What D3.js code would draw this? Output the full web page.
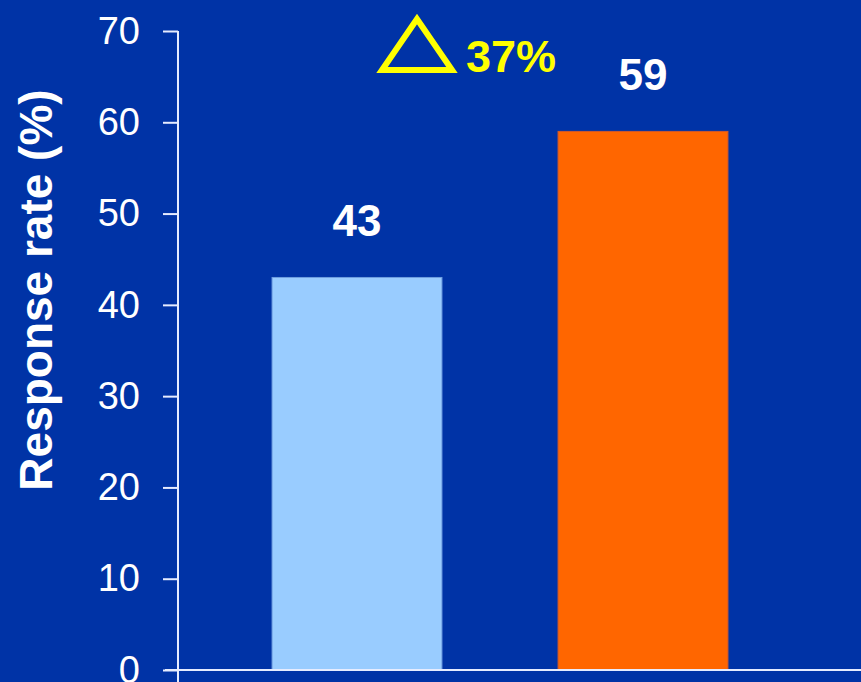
<!DOCTYPE html>
<html>
<head>
<meta charset="utf-8">
<script src="https://cdn.jsdelivr.net/npm/d3@7"></script>
<style>
  html, body { margin: 0; padding: 0; background: #0033a6; }
  svg { display: block; font-family: Arial, "Liberation Sans", sans-serif; }
</style>
</head>
<body>
<svg id="chart" width="861" height="682"></svg>
<script>
// Response rate by treatment arm
const groups = ["Control", "Treatment"];
const rates = [43, 59];
const barColors = ["#99ccff", "#ff6600"];
const yTicks = [0, 10, 20, 30, 40, 50, 60, 70];
const yTitle = "Response rate (%)";

const W = 861, H = 682;
const svg = d3.select("#chart");
svg.append("rect").attr("width", W).attr("height", H).attr("fill", "#0033a6");

const y = d3.scaleLinear().domain([0, 70]).range([670, 31]);
const x = d3.scaleBand().domain(groups).range([214, 786])
  .paddingInner(0.406).paddingOuter(0.203);

const axisX = 178;

// y axis
const yAxis = svg.append("g")
  .attr("transform", `translate(${axisX},0)`)
  .call(d3.axisLeft(y).tickValues(yTicks).tickSize(15).tickPadding(23).tickSizeOuter(0));
yAxis.select(".domain").remove();
yAxis.selectAll(".tick line").attr("stroke", "#e6ecff").attr("stroke-width", 2);
yAxis.selectAll(".tick text")
  .attr("fill", "#ffffff")
  .attr("font-size", 38)
  .attr("font-family", "Arial, 'Liberation Sans', sans-serif");
// vertical axis line runs from the top tick down past the baseline
svg.append("line")
  .attr("x1", axisX).attr("x2", axisX)
  .attr("y1", y(70)).attr("y2", H)
  .attr("stroke", "#e6ecff").attr("stroke-width", 2);

// bars
svg.selectAll("rect.bar")
  .data(rates)
  .join("rect")
  .attr("class", "bar")
  .attr("x", (d, i) => x(groups[i]))
  .attr("width", x.bandwidth())
  .attr("y", d => y(d))
  .attr("height", d => y(0) - y(d))
  .attr("fill", (d, i) => barColors[i])
  .attr("stroke", (d, i) => i === 0 ? "#6f9ee0" : "#d25a2a")
  .attr("stroke-width", 1);

// baseline
svg.append("line")
  .attr("x1", 165).attr("x2", W)
  .attr("y1", y(0)).attr("y2", y(0))
  .attr("stroke", "#e6ecff").attr("stroke-width", 2);

// value labels
svg.selectAll("text.val")
  .data(rates)
  .join("text")
  .attr("class", "val")
  .attr("x", (d, i) => x(groups[i]) + x.bandwidth() / 2)
  .attr("y", d => y(d) - 41)
  .attr("text-anchor", "middle")
  .attr("fill", "#ffffff")
  .attr("font-size", 44)
  .attr("font-weight", "bold")
  .text(d => d);

// relative increase annotation
const delta = Math.round((rates[1] - rates[0]) / rates[0] * 100);
svg.append("path")
  .attr("d", d3.line()([[417, 19], [382, 70], [452, 70]]) + "Z")
  .attr("fill", "none")
  .attr("stroke", "#ffff00")
  .attr("stroke-width", 6)
  .attr("stroke-linejoin", "miter");
svg.append("text")
  .attr("x", 466).attr("y", 72)
  .attr("fill", "#ffff00")
  .attr("font-size", 45)
  .attr("font-weight", "bold")
  .text(delta + "%");

// y axis title
svg.append("text")
  .attr("transform", `translate(52,${(90 + 490) / 2}) rotate(-90)`)
  .attr("text-anchor", "middle")
  .attr("fill", "#ffffff")
  .attr("font-size", 46)
  .attr("font-weight", "bold")
  .text(yTitle);
</script>
</body>
</html>
